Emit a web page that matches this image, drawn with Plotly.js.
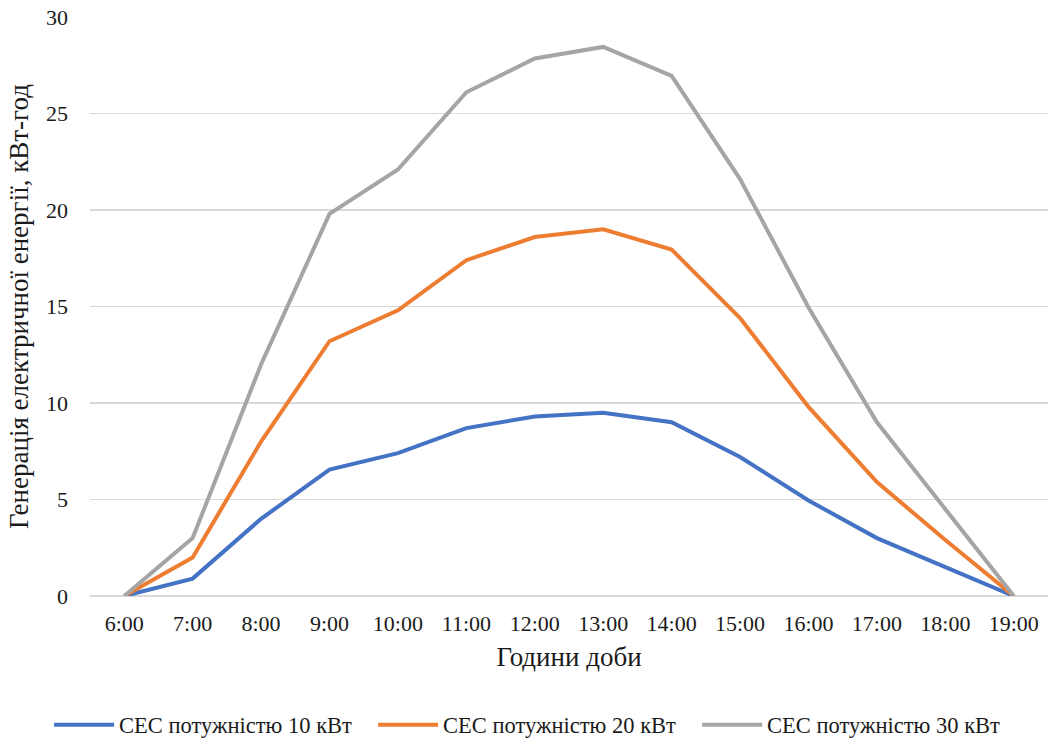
<!DOCTYPE html>
<html>
<head>
<meta charset="utf-8">
<script src="https://cdn.plot.ly/plotly-3.0.1.min.js"></script>
<style>
html,body{margin:0;padding:0;background:#fff;}
#chart{width:1053px;height:744px;}
</style>
</head>
<body>
<div id="chart"></div>
<script>
const hours = ["6:00","7:00","8:00","9:00","10:00","11:00","12:00","13:00","14:00","15:00","16:00","17:00","18:00","19:00"];
const ses10 = [0, 0.9, 4.0, 6.55, 7.4, 8.7, 9.3, 9.5, 9.0, 7.2, 4.95, 3.0, 1.5, 0];
const ses20 = [0, 2.0, 8.0, 13.2, 14.8, 17.4, 18.6, 19.0, 17.95, 14.4, 9.8, 5.9, 2.9, 0];
const ses30 = [0, 3.0, 12.0, 19.8, 22.1, 26.1, 27.85, 28.45, 26.95, 21.6, 14.95, 9.0, 4.5, 0];
const seriesNames = ["СЕС потужністю 10 кВт","СЕС потужністю 20 кВт","СЕС потужністю 30 кВт"];
const yTitle = "Генерація електричної енергії, кВт-год";
const xTitle = "Години доби";

const colors = ["#4472C4","#ED7D31","#A5A5A5"];
const data = [ses10, ses20, ses30].map((y, i) => ({
  x: hours, y: y, type: "scatter", mode: "lines", name: seriesNames[i],
  line: {color: colors[i], width: 4}
}));

const fam = "Liberation Serif, Times New Roman, serif";
const txt = "#1a1a1a";
const layout = {
  width: 1053, height: 744,
  margin: {l: 90, r: 5, t: 17, b: 148, autoexpand: false},
  paper_bgcolor: "#fff", plot_bgcolor: "#fff",
  font: {family: fam, size: 22, color: txt},
  showlegend: true,
  legend: {
    orientation: "h", x: -0.0427, xanchor: "left",
    y: -0.2228, yanchor: "middle",
    font: {family: fam, size: 22.5, color: txt}, itemwidth: 60, tracegroupgap: 0,
    entrywidth: 249, entrywidthmode: "pixels"
  },
  xaxis: {
    type: "category", range: [-0.5, 13.5], automargin: false,
    showgrid: false, zeroline: false, showline: false, ticks: "",
    ticklabelstandoff: 12,
    tickfont: {family: fam, size: 22, color: txt},
    title: {text: xTitle, font: {family: fam, size: 27, color: txt}, standoff: 12}
  },
  yaxis: {
    range: [0, 30], dtick: 5, tick0: 0, automargin: false,
    showgrid: true, gridcolor: "#d9d9d9", gridwidth: 1.2,
    zeroline: true, zerolinecolor: "#d9d9d9", zerolinewidth: 1.2,
    showline: false, ticks: "", ticklabelstandoff: 21,
    tickfont: {family: fam, size: 22, color: txt},
    title: {text: yTitle, font: {family: fam, size: 27, color: txt}, standoff: 9}
  }
};
Plotly.newPlot("chart", data, layout, {displayModeBar: false, staticPlot: true});
</script>
</body>
</html>
